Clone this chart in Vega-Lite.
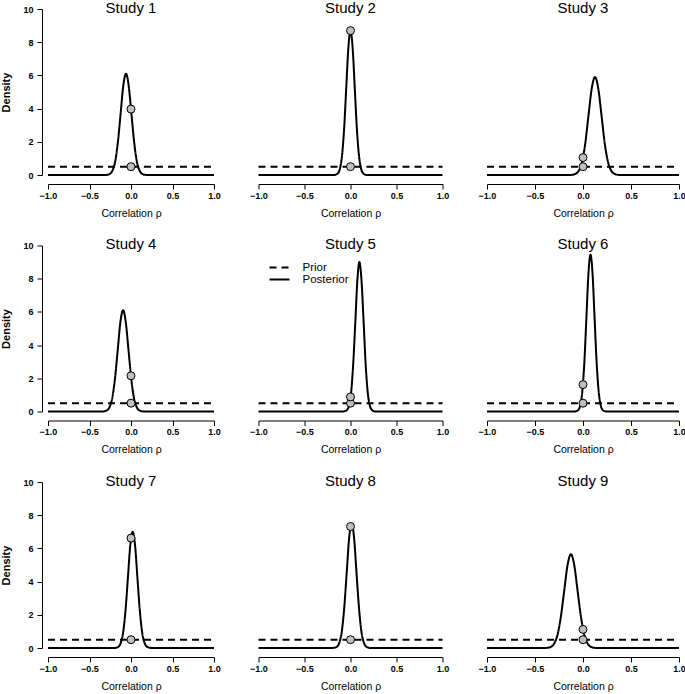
{
"$schema": "https://vega.github.io/schema/vega-lite/v6.json",
"padding": {"left": 0, "top": 0, "right": 2, "bottom": 0},
"background": "white",
"config": {
  "view": {"stroke": null},
  "font": "Liberation Sans",
  "axis": {"domainColor": "black", "tickColor": "black", "labelColor": "black", "titleColor": "black", "labelFont": "Liberation Sans", "titleFont": "Liberation Sans", "labelFontSize": 9, "labelFontWeight": "bold", "tickSize": 5, "grid": false, "domainWidth": 1, "tickWidth": 1},
  "axisX": {"offset": 9, "labelPadding": 2, "titlePadding": 8, "titleFontSize": 10.5, "titleFontWeight": "normal"},
  "axisY": {"offset": 6, "labelPadding": 4, "titleFontSize": 11, "titleFontWeight": "bold", "titlePadding": 11},
  "title": {"fontSize": 15, "fontWeight": "normal", "font": "Liberation Sans", "color": "black", "anchor": "middle", "frame": "group", "offset": -10.5, "baseline": "alphabetic"}
},
"datasets": {
  "curves": [
    {"study":1,"dist":"Prior","x":-1,"y":0.5},{"study":1,"dist":"Prior","x":1,"y":0.5},
    {"study":1,"dist":"Posterior","x":-1,"y":0},{"study":1,"dist":"Posterior","x":-0.32,"y":0},{"study":1,"dist":"Posterior","x":-0.288,"y":0.01},{"study":1,"dist":"Posterior","x":-0.255,"y":0.07},{"study":1,"dist":"Posterior","x":-0.223,"y":0.27},{"study":1,"dist":"Posterior","x":-0.19,"y":0.83},{"study":1,"dist":"Posterior","x":-0.158,"y":1.98},{"study":1,"dist":"Posterior","x":-0.125,"y":3.7},{"study":1,"dist":"Posterior","x":-0.093,"y":5.38},{"study":1,"dist":"Posterior","x":-0.06,"y":6.1},{"study":1,"dist":"Posterior","x":-0.028,"y":5.38},{"study":1,"dist":"Posterior","x":0.005,"y":3.7},{"study":1,"dist":"Posterior","x":0.038,"y":1.98},{"study":1,"dist":"Posterior","x":0.07,"y":0.83},{"study":1,"dist":"Posterior","x":0.103,"y":0.27},{"study":1,"dist":"Posterior","x":0.135,"y":0.07},{"study":1,"dist":"Posterior","x":0.168,"y":0.01},{"study":1,"dist":"Posterior","x":0.2,"y":0},{"study":1,"dist":"Posterior","x":1,"y":0},
    {"study":2,"dist":"Prior","x":-1,"y":0.5},{"study":2,"dist":"Prior","x":1,"y":0.5},
    {"study":2,"dist":"Posterior","x":-1,"y":0},{"study":2,"dist":"Posterior","x":-0.184,"y":0},{"study":2,"dist":"Posterior","x":-0.161,"y":0.02},{"study":2,"dist":"Posterior","x":-0.138,"y":0.1},{"study":2,"dist":"Posterior","x":-0.115,"y":0.38},{"study":2,"dist":"Posterior","x":-0.092,"y":1.18},{"study":2,"dist":"Posterior","x":-0.069,"y":2.82},{"study":2,"dist":"Posterior","x":-0.046,"y":5.28},{"study":2,"dist":"Posterior","x":-0.023,"y":7.68},{"study":2,"dist":"Posterior","x":0,"y":8.7},{"study":2,"dist":"Posterior","x":0.023,"y":7.68},{"study":2,"dist":"Posterior","x":0.046,"y":5.28},{"study":2,"dist":"Posterior","x":0.069,"y":2.82},{"study":2,"dist":"Posterior","x":0.092,"y":1.18},{"study":2,"dist":"Posterior","x":0.115,"y":0.38},{"study":2,"dist":"Posterior","x":0.138,"y":0.1},{"study":2,"dist":"Posterior","x":0.161,"y":0.02},{"study":2,"dist":"Posterior","x":0.184,"y":0},{"study":2,"dist":"Posterior","x":1,"y":0},
    {"study":3,"dist":"Prior","x":-1,"y":0.5},{"study":3,"dist":"Prior","x":1,"y":0.5},
    {"study":3,"dist":"Posterior","x":-1,"y":0},{"study":3,"dist":"Posterior","x":-0.145,"y":0},{"study":3,"dist":"Posterior","x":-0.112,"y":0.01},{"study":3,"dist":"Posterior","x":-0.078,"y":0.07},{"study":3,"dist":"Posterior","x":-0.044,"y":0.26},{"study":3,"dist":"Posterior","x":-0.01,"y":0.8},{"study":3,"dist":"Posterior","x":0.024,"y":1.92},{"study":3,"dist":"Posterior","x":0.057,"y":3.58},{"study":3,"dist":"Posterior","x":0.091,"y":5.21},{"study":3,"dist":"Posterior","x":0.125,"y":5.9},{"study":3,"dist":"Posterior","x":0.159,"y":5.21},{"study":3,"dist":"Posterior","x":0.193,"y":3.58},{"study":3,"dist":"Posterior","x":0.226,"y":1.92},{"study":3,"dist":"Posterior","x":0.26,"y":0.8},{"study":3,"dist":"Posterior","x":0.294,"y":0.26},{"study":3,"dist":"Posterior","x":0.328,"y":0.07},{"study":3,"dist":"Posterior","x":0.362,"y":0.01},{"study":3,"dist":"Posterior","x":0.395,"y":0},{"study":3,"dist":"Posterior","x":1,"y":0},
    {"study":4,"dist":"Prior","x":-1,"y":0.5},{"study":4,"dist":"Prior","x":1,"y":0.5},
    {"study":4,"dist":"Posterior","x":-1,"y":0},{"study":4,"dist":"Posterior","x":-0.355,"y":0},{"study":4,"dist":"Posterior","x":-0.323,"y":0.01},{"study":4,"dist":"Posterior","x":-0.29,"y":0.07},{"study":4,"dist":"Posterior","x":-0.258,"y":0.27},{"study":4,"dist":"Posterior","x":-0.225,"y":0.83},{"study":4,"dist":"Posterior","x":-0.193,"y":1.98},{"study":4,"dist":"Posterior","x":-0.16,"y":3.7},{"study":4,"dist":"Posterior","x":-0.128,"y":5.38},{"study":4,"dist":"Posterior","x":-0.095,"y":6.1},{"study":4,"dist":"Posterior","x":-0.063,"y":5.38},{"study":4,"dist":"Posterior","x":-0.03,"y":3.7},{"study":4,"dist":"Posterior","x":0.003,"y":1.98},{"study":4,"dist":"Posterior","x":0.035,"y":0.83},{"study":4,"dist":"Posterior","x":0.068,"y":0.27},{"study":4,"dist":"Posterior","x":0.1,"y":0.07},{"study":4,"dist":"Posterior","x":0.133,"y":0.01},{"study":4,"dist":"Posterior","x":0.165,"y":0},{"study":4,"dist":"Posterior","x":1,"y":0},
    {"study":5,"dist":"Prior","x":-1,"y":0.5},{"study":5,"dist":"Prior","x":1,"y":0.5},
    {"study":5,"dist":"Posterior","x":-1,"y":0},{"study":5,"dist":"Posterior","x":-0.081,"y":0},{"study":5,"dist":"Posterior","x":-0.059,"y":0.02},{"study":5,"dist":"Posterior","x":-0.037,"y":0.1},{"study":5,"dist":"Posterior","x":-0.014,"y":0.4},{"study":5,"dist":"Posterior","x":0.008,"y":1.22},{"study":5,"dist":"Posterior","x":0.03,"y":2.92},{"study":5,"dist":"Posterior","x":0.053,"y":5.46},{"study":5,"dist":"Posterior","x":0.075,"y":7.94},{"study":5,"dist":"Posterior","x":0.097,"y":9.0},{"study":5,"dist":"Posterior","x":0.119,"y":7.94},{"study":5,"dist":"Posterior","x":0.142,"y":5.46},{"study":5,"dist":"Posterior","x":0.164,"y":2.92},{"study":5,"dist":"Posterior","x":0.186,"y":1.22},{"study":5,"dist":"Posterior","x":0.208,"y":0.4},{"study":5,"dist":"Posterior","x":0.231,"y":0.1},{"study":5,"dist":"Posterior","x":0.253,"y":0.02},{"study":5,"dist":"Posterior","x":0.275,"y":0},{"study":5,"dist":"Posterior","x":1,"y":0},
    {"study":6,"dist":"Prior","x":-1,"y":0.5},{"study":6,"dist":"Prior","x":1,"y":0.5},
    {"study":6,"dist":"Posterior","x":-1,"y":0},{"study":6,"dist":"Posterior","x":-0.09,"y":0},{"study":6,"dist":"Posterior","x":-0.069,"y":0.02},{"study":6,"dist":"Posterior","x":-0.048,"y":0.1},{"study":6,"dist":"Posterior","x":-0.027,"y":0.41},{"study":6,"dist":"Posterior","x":-0.006,"y":1.28},{"study":6,"dist":"Posterior","x":0.015,"y":3.07},{"study":6,"dist":"Posterior","x":0.036,"y":5.73},{"study":6,"dist":"Posterior","x":0.057,"y":8.34},{"study":6,"dist":"Posterior","x":0.078,"y":9.45},{"study":6,"dist":"Posterior","x":0.099,"y":8.34},{"study":6,"dist":"Posterior","x":0.12,"y":5.73},{"study":6,"dist":"Posterior","x":0.141,"y":3.07},{"study":6,"dist":"Posterior","x":0.162,"y":1.28},{"study":6,"dist":"Posterior","x":0.183,"y":0.41},{"study":6,"dist":"Posterior","x":0.204,"y":0.1},{"study":6,"dist":"Posterior","x":0.225,"y":0.02},{"study":6,"dist":"Posterior","x":0.246,"y":0},{"study":6,"dist":"Posterior","x":1,"y":0},
    {"study":7,"dist":"Prior","x":-1,"y":0.5},{"study":7,"dist":"Prior","x":1,"y":0.5},
    {"study":7,"dist":"Posterior","x":-1,"y":0},{"study":7,"dist":"Posterior","x":-0.208,"y":0},{"study":7,"dist":"Posterior","x":-0.18,"y":0.02},{"study":7,"dist":"Posterior","x":-0.151,"y":0.08},{"study":7,"dist":"Posterior","x":-0.123,"y":0.31},{"study":7,"dist":"Posterior","x":-0.094,"y":0.95},{"study":7,"dist":"Posterior","x":-0.066,"y":2.27},{"study":7,"dist":"Posterior","x":-0.037,"y":4.25},{"study":7,"dist":"Posterior","x":-0.009,"y":6.18},{"study":7,"dist":"Posterior","x":0.02,"y":7.0},{"study":7,"dist":"Posterior","x":0.049,"y":6.18},{"study":7,"dist":"Posterior","x":0.077,"y":4.25},{"study":7,"dist":"Posterior","x":0.106,"y":2.27},{"study":7,"dist":"Posterior","x":0.134,"y":0.95},{"study":7,"dist":"Posterior","x":0.163,"y":0.31},{"study":7,"dist":"Posterior","x":0.191,"y":0.08},{"study":7,"dist":"Posterior","x":0.22,"y":0.02},{"study":7,"dist":"Posterior","x":0.248,"y":0},{"study":7,"dist":"Posterior","x":1,"y":0},
    {"study":8,"dist":"Prior","x":-1,"y":0.5},{"study":8,"dist":"Prior","x":1,"y":0.5},
    {"study":8,"dist":"Posterior","x":-1,"y":0},{"study":8,"dist":"Posterior","x":-0.2,"y":0},{"study":8,"dist":"Posterior","x":-0.174,"y":0.02},{"study":8,"dist":"Posterior","x":-0.147,"y":0.08},{"study":8,"dist":"Posterior","x":-0.121,"y":0.33},{"study":8,"dist":"Posterior","x":-0.094,"y":1.01},{"study":8,"dist":"Posterior","x":-0.068,"y":2.44},{"study":8,"dist":"Posterior","x":-0.041,"y":4.55},{"study":8,"dist":"Posterior","x":-0.015,"y":6.62},{"study":8,"dist":"Posterior","x":0.012,"y":7.5},{"study":8,"dist":"Posterior","x":0.039,"y":6.62},{"study":8,"dist":"Posterior","x":0.065,"y":4.55},{"study":8,"dist":"Posterior","x":0.092,"y":2.44},{"study":8,"dist":"Posterior","x":0.118,"y":1.01},{"study":8,"dist":"Posterior","x":0.145,"y":0.33},{"study":8,"dist":"Posterior","x":0.171,"y":0.08},{"study":8,"dist":"Posterior","x":0.198,"y":0.02},{"study":8,"dist":"Posterior","x":0.224,"y":0},{"study":8,"dist":"Posterior","x":1,"y":0},
    {"study":9,"dist":"Prior","x":-1,"y":0.5},{"study":9,"dist":"Prior","x":1,"y":0.5},
    {"study":9,"dist":"Posterior","x":-1,"y":0},{"study":9,"dist":"Posterior","x":-0.408,"y":0},{"study":9,"dist":"Posterior","x":-0.372,"y":0.01},{"study":9,"dist":"Posterior","x":-0.337,"y":0.06},{"study":9,"dist":"Posterior","x":-0.302,"y":0.25},{"study":9,"dist":"Posterior","x":-0.267,"y":0.76},{"study":9,"dist":"Posterior","x":-0.232,"y":1.83},{"study":9,"dist":"Posterior","x":-0.196,"y":3.43},{"study":9,"dist":"Posterior","x":-0.161,"y":4.99},{"study":9,"dist":"Posterior","x":-0.126,"y":5.65},{"study":9,"dist":"Posterior","x":-0.091,"y":4.99},{"study":9,"dist":"Posterior","x":-0.056,"y":3.43},{"study":9,"dist":"Posterior","x":-0.02,"y":1.83},{"study":9,"dist":"Posterior","x":0.015,"y":0.76},{"study":9,"dist":"Posterior","x":0.05,"y":0.25},{"study":9,"dist":"Posterior","x":0.085,"y":0.06},{"study":9,"dist":"Posterior","x":0.12,"y":0.01},{"study":9,"dist":"Posterior","x":0.156,"y":0},{"study":9,"dist":"Posterior","x":1,"y":0}
  ],
  "pts": [
    {"study":1,"dist":"Prior","x":0,"y":0.5},{"study":1,"dist":"Posterior","x":0,"y":3.97},
    {"study":2,"dist":"Prior","x":0,"y":0.5},{"study":2,"dist":"Posterior","x":0,"y":8.7},
    {"study":3,"dist":"Prior","x":0,"y":0.5},{"study":3,"dist":"Posterior","x":0,"y":1.05},
    {"study":4,"dist":"Prior","x":0,"y":0.5},{"study":4,"dist":"Posterior","x":0,"y":2.15},
    {"study":5,"dist":"Prior","x":0,"y":0.5},{"study":5,"dist":"Posterior","x":0,"y":0.88},
    {"study":6,"dist":"Prior","x":0,"y":0.5},{"study":6,"dist":"Posterior","x":0,"y":1.62},
    {"study":7,"dist":"Prior","x":0,"y":0.5},{"study":7,"dist":"Posterior","x":0,"y":6.62},
    {"study":8,"dist":"Prior","x":0,"y":0.5},{"study":8,"dist":"Posterior","x":0,"y":7.32},
    {"study":9,"dist":"Prior","x":0,"y":0.5},{"study":9,"dist":"Posterior","x":0,"y":1.12}
  ]
},
"columns": 3,
"spacing": {"row": 70.5, "column": 44.5},
"bounds": "flush",
"resolve": {"scale": {"strokeDash": "independent"}, "legend": {"strokeDash": "independent"}},
"concat": [
  {"width": 166, "height": 166, "title": {"text": "Study 1"},
   "encoding": {"x": {"field":"x","type":"quantitative","scale":{"domain":[-1,1],"nice":false,"zero":false},"axis":{"values":[-1,-0.5,0,0.5,1],"format":".1f","title":"Correlation ρ","labelFlush":false}},
                "y": {"field":"y","type":"quantitative","scale":{"domain":[0,10],"nice":false},"axis":{"values":[0,2,4,6,8,10],"title":"Density"}}},
   "layer": [
     {"data":{"name":"curves"},"transform":[{"filter":"datum.study === 1"}],"mark":{"type":"line","stroke":"black","strokeWidth":2,"interpolate":"monotone"},
      "encoding":{"strokeDash":{"field":"dist","type":"nominal","scale":{"domain":["Prior","Posterior"],"range":[[7,5],[1,0]]},"legend":null}}},
     {"data":{"name":"pts"},"transform":[{"filter":"datum.study === 1"}],"mark":{"type":"point","filled":true,"fill":"#bfbfbf","stroke":"black","strokeWidth":1,"size":64,"opacity":1}}
   ]},
  {"width": 184, "height": 166, "title": {"text": "Study 2", "offset": -6.5},
   "encoding": {"x": {"field":"x","type":"quantitative","scale":{"domain":[-1,1],"nice":false,"zero":false},"axis":{"values":[-1,-0.5,0,0.5,1],"format":".1f","title":"Correlation ρ","labelFlush":false}},
                "y": {"field":"y","type":"quantitative","scale":{"domain":[0,10],"nice":false},"axis":null}},
   "layer": [
     {"data":{"name":"curves"},"transform":[{"filter":"datum.study === 2"}],"mark":{"type":"line","stroke":"black","strokeWidth":2,"interpolate":"monotone"},
      "encoding":{"strokeDash":{"field":"dist","type":"nominal","scale":{"domain":["Prior","Posterior"],"range":[[7,5],[1,0]]},"legend":null}}},
     {"data":{"name":"pts"},"transform":[{"filter":"datum.study === 2"}],"mark":{"type":"point","filled":true,"fill":"#bfbfbf","stroke":"black","strokeWidth":1,"size":64,"opacity":1}}
   ]},
  {"width": 192, "height": 166, "title": {"text": "Study 3", "offset": -6.5},
   "encoding": {"x": {"field":"x","type":"quantitative","scale":{"domain":[-1,1],"nice":false,"zero":false},"axis":{"values":[-1,-0.5,0,0.5,1],"format":".1f","title":"Correlation ρ","labelFlush":false}},
                "y": {"field":"y","type":"quantitative","scale":{"domain":[0,10],"nice":false},"axis":null}},
   "layer": [
     {"data":{"name":"curves"},"transform":[{"filter":"datum.study === 3"}],"mark":{"type":"line","stroke":"black","strokeWidth":2,"interpolate":"monotone"},
      "encoding":{"strokeDash":{"field":"dist","type":"nominal","scale":{"domain":["Prior","Posterior"],"range":[[7,5],[1,0]]},"legend":null}}},
     {"data":{"name":"pts"},"transform":[{"filter":"datum.study === 3"}],"mark":{"type":"point","filled":true,"fill":"#bfbfbf","stroke":"black","strokeWidth":1,"size":64,"opacity":1}}
   ]},
  {"width": 166, "height": 166, "title": {"text": "Study 4"},
   "encoding": {"x": {"field":"x","type":"quantitative","scale":{"domain":[-1,1],"nice":false,"zero":false},"axis":{"values":[-1,-0.5,0,0.5,1],"format":".1f","title":"Correlation ρ","labelFlush":false}},
                "y": {"field":"y","type":"quantitative","scale":{"domain":[0,10],"nice":false},"axis":{"values":[0,2,4,6,8,10],"title":"Density"}}},
   "layer": [
     {"data":{"name":"curves"},"transform":[{"filter":"datum.study === 4"}],"mark":{"type":"line","stroke":"black","strokeWidth":2,"interpolate":"monotone"},
      "encoding":{"strokeDash":{"field":"dist","type":"nominal","scale":{"domain":["Prior","Posterior"],"range":[[7,5],[1,0]]},"legend":null}}},
     {"data":{"name":"pts"},"transform":[{"filter":"datum.study === 4"}],"mark":{"type":"point","filled":true,"fill":"#bfbfbf","stroke":"black","strokeWidth":1,"size":64,"opacity":1}}
   ]},
  {"width": 184, "height": 166, "title": {"text": "Study 5", "offset": -6.5},
   "encoding": {"x": {"field":"x","type":"quantitative","scale":{"domain":[-1,1],"nice":false,"zero":false},"axis":{"values":[-1,-0.5,0,0.5,1],"format":".1f","title":"Correlation ρ","labelFlush":false}},
                "y": {"field":"y","type":"quantitative","scale":{"domain":[0,10],"nice":false},"axis":null}},
   "layer": [
     {"data":{"name":"curves"},"transform":[{"filter":"datum.study === 5"}],"mark":{"type":"line","stroke":"black","strokeWidth":2,"interpolate":"monotone"},
      "encoding":{"strokeDash":{"field":"dist","type":"nominal","scale":{"domain":["Prior","Posterior"],"range":[[7,5],[1,0]]},
        "legend":{"orient":"none","legendX":10,"legendY":16,"title":null,"symbolType":"stroke","symbolSize":400,"symbolStrokeWidth":2,"symbolStrokeColor":"black","labelFontSize":11.5,"labelFont":"Liberation Sans","labelColor":"black","rowPadding":0,"clipHeight":12,"padding":0,"labelOffset":12}}}},
     {"data":{"name":"pts"},"transform":[{"filter":"datum.study === 5"}],"mark":{"type":"point","filled":true,"fill":"#bfbfbf","stroke":"black","strokeWidth":1,"size":64,"opacity":1}}
   ]},
  {"width": 192, "height": 166, "title": {"text": "Study 6", "offset": -6.5},
   "encoding": {"x": {"field":"x","type":"quantitative","scale":{"domain":[-1,1],"nice":false,"zero":false},"axis":{"values":[-1,-0.5,0,0.5,1],"format":".1f","title":"Correlation ρ","labelFlush":false}},
                "y": {"field":"y","type":"quantitative","scale":{"domain":[0,10],"nice":false},"axis":null}},
   "layer": [
     {"data":{"name":"curves"},"transform":[{"filter":"datum.study === 6"}],"mark":{"type":"line","stroke":"black","strokeWidth":2,"interpolate":"monotone"},
      "encoding":{"strokeDash":{"field":"dist","type":"nominal","scale":{"domain":["Prior","Posterior"],"range":[[7,5],[1,0]]},"legend":null}}},
     {"data":{"name":"pts"},"transform":[{"filter":"datum.study === 6"}],"mark":{"type":"point","filled":true,"fill":"#bfbfbf","stroke":"black","strokeWidth":1,"size":64,"opacity":1}}
   ]},
  {"width": 166, "height": 166, "title": {"text": "Study 7"},
   "encoding": {"x": {"field":"x","type":"quantitative","scale":{"domain":[-1,1],"nice":false,"zero":false},"axis":{"values":[-1,-0.5,0,0.5,1],"format":".1f","title":"Correlation ρ","labelFlush":false}},
                "y": {"field":"y","type":"quantitative","scale":{"domain":[0,10],"nice":false},"axis":{"values":[0,2,4,6,8,10],"title":"Density"}}},
   "layer": [
     {"data":{"name":"curves"},"transform":[{"filter":"datum.study === 7"}],"mark":{"type":"line","stroke":"black","strokeWidth":2,"interpolate":"monotone"},
      "encoding":{"strokeDash":{"field":"dist","type":"nominal","scale":{"domain":["Prior","Posterior"],"range":[[7,5],[1,0]]},"legend":null}}},
     {"data":{"name":"pts"},"transform":[{"filter":"datum.study === 7"}],"mark":{"type":"point","filled":true,"fill":"#bfbfbf","stroke":"black","strokeWidth":1,"size":64,"opacity":1}}
   ]},
  {"width": 184, "height": 166, "title": {"text": "Study 8", "offset": -6.5},
   "encoding": {"x": {"field":"x","type":"quantitative","scale":{"domain":[-1,1],"nice":false,"zero":false},"axis":{"values":[-1,-0.5,0,0.5,1],"format":".1f","title":"Correlation ρ","labelFlush":false}},
                "y": {"field":"y","type":"quantitative","scale":{"domain":[0,10],"nice":false},"axis":null}},
   "layer": [
     {"data":{"name":"curves"},"transform":[{"filter":"datum.study === 8"}],"mark":{"type":"line","stroke":"black","strokeWidth":2,"interpolate":"monotone"},
      "encoding":{"strokeDash":{"field":"dist","type":"nominal","scale":{"domain":["Prior","Posterior"],"range":[[7,5],[1,0]]},"legend":null}}},
     {"data":{"name":"pts"},"transform":[{"filter":"datum.study === 8"}],"mark":{"type":"point","filled":true,"fill":"#bfbfbf","stroke":"black","strokeWidth":1,"size":64,"opacity":1}}
   ]},
  {"width": 192, "height": 166, "title": {"text": "Study 9", "offset": -6.5},
   "encoding": {"x": {"field":"x","type":"quantitative","scale":{"domain":[-1,1],"nice":false,"zero":false},"axis":{"values":[-1,-0.5,0,0.5,1],"format":".1f","title":"Correlation ρ","labelFlush":false}},
                "y": {"field":"y","type":"quantitative","scale":{"domain":[0,10],"nice":false},"axis":null}},
   "layer": [
     {"data":{"name":"curves"},"transform":[{"filter":"datum.study === 9"}],"mark":{"type":"line","stroke":"black","strokeWidth":2,"interpolate":"monotone"},
      "encoding":{"strokeDash":{"field":"dist","type":"nominal","scale":{"domain":["Prior","Posterior"],"range":[[7,5],[1,0]]},"legend":null}}},
     {"data":{"name":"pts"},"transform":[{"filter":"datum.study === 9"}],"mark":{"type":"point","filled":true,"fill":"#bfbfbf","stroke":"black","strokeWidth":1,"size":64,"opacity":1}}
   ]}
]
}
